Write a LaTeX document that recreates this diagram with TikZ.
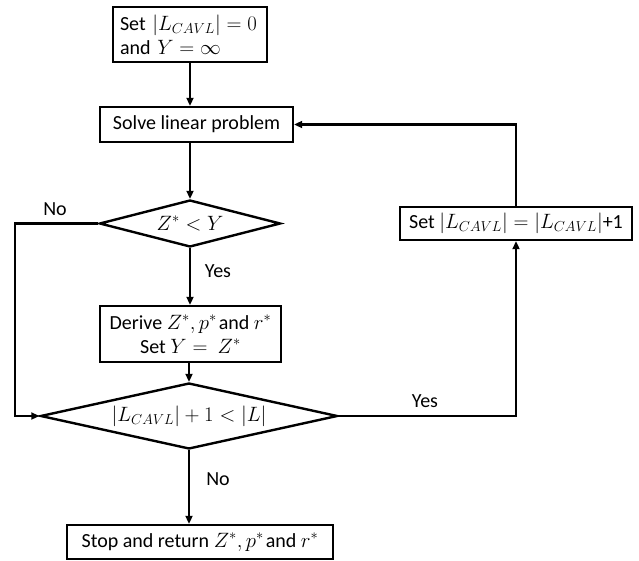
\documentclass[tikz,border=0pt]{standalone}
\usepackage{fontspec}
\setmainfont{Carlito}
\usetikzlibrary{arrows.meta,shapes.geometric}
\begin{document}
\begin{tikzpicture}[x=1pt,y=-1pt,
  every node/.style={font=\fontsize{20}{24}\selectfont},
  box/.style={draw,line width=2.4pt,inner sep=4pt,align=center},
  decision/.style={draw,diamond,line width=2.4pt,inner sep=0pt},
  conn/.style={line width=2.4pt,-{Triangle[length=8pt,width=7pt]}},
  lbl/.style={inner sep=0pt}]
\useasboundingbox (0,0) rectangle (639,561);
\node[box,minimum width=154,minimum height=55,text width=140,align=left] (init) at (190,34.5) {Set $|L_{CAVL}| = 0$\\and $Y = \infty$};
\node[box,minimum width=193,minimum height=35] (solve) at (196.5,124.5) {Solve linear problem};
\node[decision,aspect=3.85,minimum width=181,minimum height=47] (d1) at (190,223.5) {$Z^* < Y$};
\node[box,minimum width=181,minimum height=56] (derive) at (190.5,334) {Derive $Z^*, p^*$\kern2pt and $r^*$\\Set $Y =\ Z^*$};
\node[decision,aspect=4.5,minimum width=297,minimum height=66] (d2) at (189,416) {$|L_{CAVL}| + 1 < |L|$};
\node[box,minimum width=266,minimum height=34] (stop) at (200,542) {Stop and return $Z^*, p^*$\kern2pt and $r^*$};
\node[box,minimum width=232,minimum height=33] (inc) at (516,223.5) {Set $|L_{CAVL}| = |L_{CAVL}|$+1};
\coordinate (lft) at (15,0);
\draw[conn] (init.south) -- (init.south |- solve.north);
\draw[conn] (d1.north |- solve.south) -- (d1.north);
\draw[conn] (d1.south) -- (d1.south |- derive.north);
\draw[conn] (d2.north |- derive.south) -- (d2.north);
\draw[conn] (d2.south) -- (d2.south |- stop.north);
\draw[conn] (d1.west) -- (lft |- d1.west) -- (lft |- d2.west) -- (d2.west);
\draw[conn] (d2.east) -| (inc.south);
\draw[conn] (inc.north) |- (solve.east);
\node[lbl] (no1) at (55,209) {No};
\node[lbl] (yes1) at (218,271) {Yes};
\node[lbl] (yes2) at (425,401) {Yes};
\node[lbl] (no2) at (218,479) {No};
\end{tikzpicture}
\end{document}
